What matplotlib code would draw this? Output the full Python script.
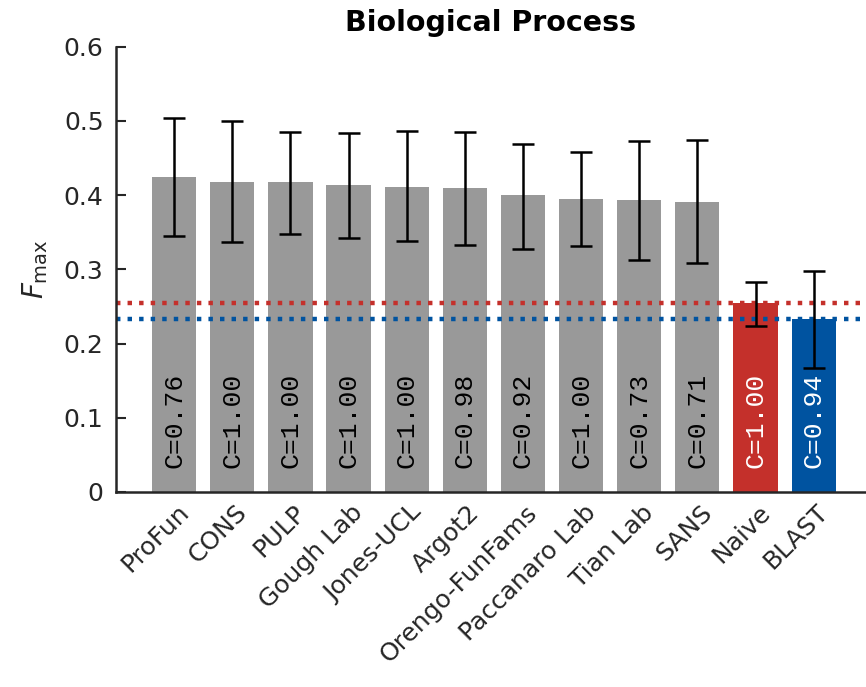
import numpy as np
import matplotlib.pyplot as plt

# Fmax per method, with error bar bounds and coverage
methods = ["ProFun", "CONS", "PULP", "Gough Lab", "Jones-UCL", "Argot2",
           "Orengo-FunFams", "Paccanaro Lab", "Tian Lab", "SANS", "Naive", "BLAST"]
fmax = [0.425, 0.418, 0.417, 0.413, 0.411, 0.409, 0.400, 0.395, 0.394, 0.391, 0.254, 0.233]
upper = [0.504, 0.500, 0.485, 0.484, 0.487, 0.485, 0.469, 0.458, 0.473, 0.474, 0.283, 0.298]
lower = [0.345, 0.337, 0.348, 0.342, 0.338, 0.333, 0.327, 0.332, 0.312, 0.308, 0.224, 0.167]
coverage = ["0.76", "1.00", "1.00", "1.00", "1.00", "0.98", "0.92", "1.00", "0.73", "0.71", "1.00", "0.94"]

gray = "#999999"
red = "#C4302B"
blue = "#0053A0"
colors = [gray] * 10 + [red, blue]
text_colors = ["black"] * 10 + ["white", "white"]

x = np.arange(1, len(methods) + 1)
fmax = np.array(fmax)
yerr = [fmax - np.array(lower), np.array(upper) - fmax]

fig = plt.figure(figsize=(8.66, 6.87), dpi=100)
ax = fig.add_axes([0.134, 0.284, 0.866, 0.648])

ax.bar(x, fmax, width=0.76, color=colors, zorder=1)

# baseline reference lines for Naive and BLAST
ax.axhline(fmax[-2], color=red, linestyle=(0, (1, 1.6)), linewidth=3.2, zorder=2)
ax.axhline(fmax[-1], color=blue, linestyle=(0, (1, 1.6)), linewidth=3.2, zorder=2)

ax.errorbar(x, fmax, yerr=yerr, fmt="none", ecolor="black", elinewidth=1.8,
            capsize=8, capthick=1.8, zorder=3)

for xi, c, tc in zip(x, coverage, text_colors):
    ax.text(xi, 0.032, "C=" + c, rotation=90, ha="center", va="bottom",
            fontsize=19, family="Liberation Mono", color=tc, zorder=4)

ax.set_xlim(0.0, 12.9)
ax.set_ylim(0, 0.6)
ax.set_yticks([0, 0.1, 0.2, 0.3, 0.4, 0.5, 0.6])
ax.set_yticklabels(["0", "0.1", "0.2", "0.3", "0.4", "0.5", "0.6"])
ax.set_xticks(x + 0.04)
ax.set_xticklabels(methods, rotation=45, ha="right", rotation_mode="anchor")
ax.tick_params(axis="both", direction="in", labelsize=18, colors="#262626",
               width=1.5, length=7)
ax.tick_params(axis="y", pad=9)
ax.tick_params(axis="x", length=0, pad=6)
for s in ["top", "right"]:
    ax.spines[s].set_visible(False)
for s in ["left", "bottom"]:
    ax.spines[s].set_linewidth(1.8)
    ax.spines[s].set_color("#262626")

ax.set_ylabel(r"$F_{\mathrm{max}}$", fontsize=20, color="#262626", labelpad=10)
ax.set_title("Biological Process", fontsize=20.5, fontweight="bold", pad=11)

fig.savefig("out.png", dpi=100)
